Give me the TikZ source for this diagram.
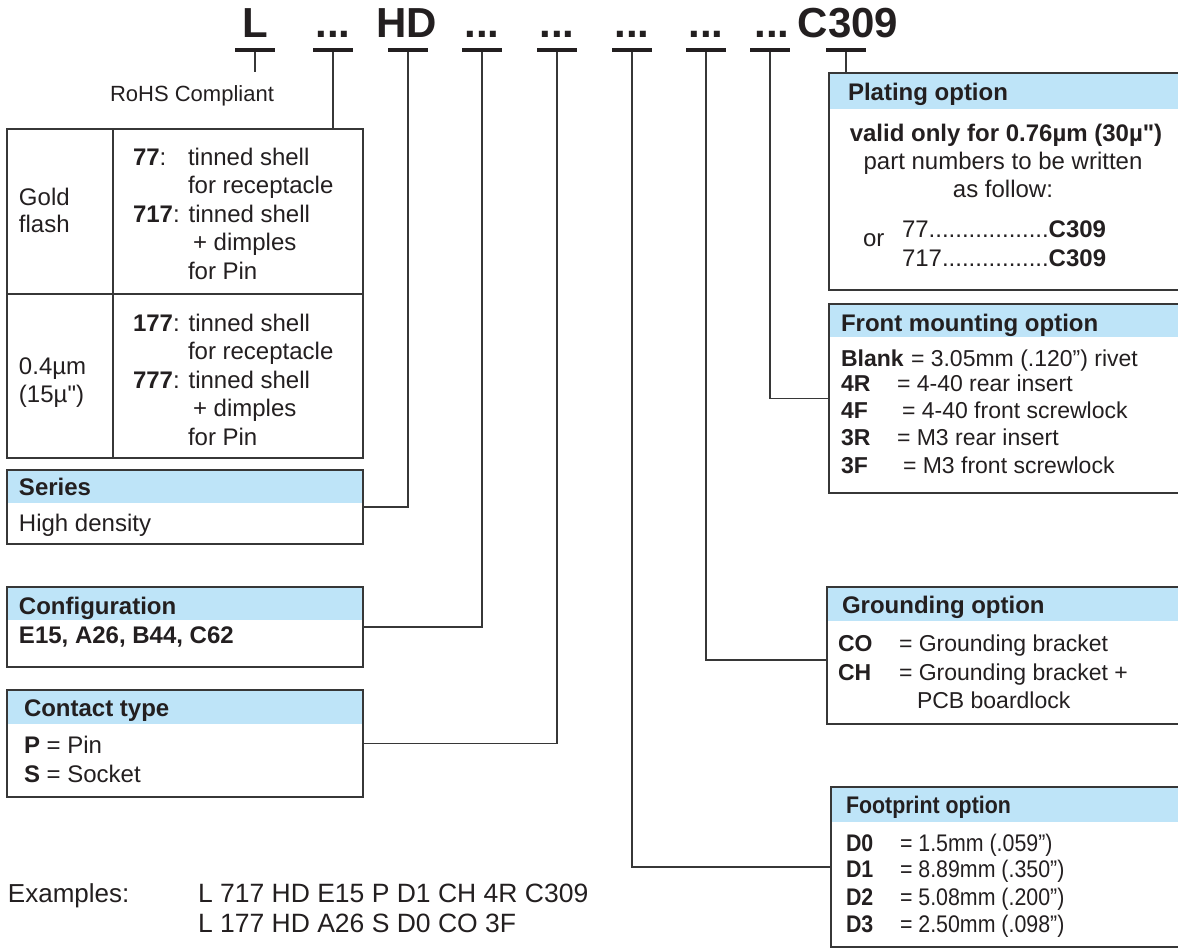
\documentclass[tikz,border=0pt]{standalone}
\usepackage{fontspec}
\setmainfont{Liberation Sans}[Ligatures=TeXOff]
\newfontfamily\condfont[FakeStretch=0.89,Ligatures=TeXOff]{Liberation Sans}
\pgfdeclarelayer{bg}
\pgfsetlayers{bg,main}
\definecolor{txt}{RGB}{35,31,32}
\definecolor{hdrblue}{RGB}{190,228,248}
\definecolor{edge}{RGB}{55,55,55}
\begin{document}
\begin{tikzpicture}[x=1pt,y=-1pt,
  every node/.style={inner sep=0pt, outer sep=0pt, text=txt},
  lbl/.style={anchor=base west, font=\fontsize{24}{29}\selectfont},
  lbs/.style={anchor=base west, font=\fontsize{23}{28}\selectfont},
  lblc/.style={anchor=base, font=\fontsize{24}{29}\selectfont},
  hdr/.style={anchor=base west, font=\fontsize{24}{29}\selectfont\bfseries},
  fnt/.style={anchor=base west, font=\condfont\fontsize{24}{29}\selectfont},
  ttl/.style={anchor=base, font=\fontsize{42}{42}\selectfont\bfseries},
  bar/.style={fill=txt, minimum width=40pt, minimum height=4.5pt},
  box/.style={draw=edge, line width=1.3pt, anchor=north west},
  openbox/.style={anchor=north west},
  conn/.style={draw=edge, line width=1.3pt},
]
\useasboundingbox (0,0) rectangle (1178,950);

% ---------- title ----------
\node[ttl] (tL) at (255,38) {L};
\node[ttl] (t2) at (333,38) {...};
\node[ttl] (t3) at (407,38) {HD};
\node[ttl] (t4) at (482,38) {...};
\node[ttl] (t5) at (557,38) {...};
\node[ttl] (t6) at (632,38) {...};
\node[ttl] (t7) at (706,38) {...};
\node[ttl] (t8) at (772,38) {...};
\node[ttl] (t9) at (848,38) {C309};
\node[bar] (b1) at (255,50) {};
\node[bar] (b2) at (333,50) {};
\node[bar] (b3) at (408,50) {};
\node[bar] (b4) at (482,50) {};
\node[bar] (b5) at (557,50) {};
\node[bar] (b6) at (632,50) {};
\node[bar] (b7) at (706,50) {};
\node[bar] (b8) at (770,50) {};
\node[bar] (b9) at (846,50) {};

% ---------- RoHS ----------
\coordinate (rohsTop) at (255,72);
\draw[conn] (b1.south) -- (rohsTop);
\node[anchor=base, font=\fontsize{22}{26}\selectfont] (rohs) at (192,101) {RoHS Compliant};

% ---------- gold table ----------
\node[box, minimum width=356pt, minimum height=329pt] (gold) at (7,129) {};
\draw[conn] (b2.south) -- (b2.south |- gold.north);
\draw[conn] ([xshift=106pt]gold.north west) -- ([xshift=106pt]gold.south west);
\coordinate (gmid) at (0,294);
\draw[conn] (gold.west |- gmid) -- (gold.east |- gmid);
\node[lbl] (gA) at (19,205) {Gold};
\node[lbl] (gB) at (19,232) {flash};
\node[lbl] (g1c) at (133,165) {\textbf{77}:};
\node[lbl] (g1d) at (188,165) {tinned shell};
\node[lbl] (g2d) at (188,193.5) {for receptacle};
\node[lbl] (g3c) at (133,222) {\textbf{717}: tinned shell};
\node[lbl] (g4d) at (193,250.5) {+ dimples};
\node[lbl] (g5d) at (188,279) {for Pin};
\node[lbl] (hA) at (19,374) {0.4µm};
\node[lbl] (hB) at (19,402) {(15µ")};
\node[lbl] (h1c) at (133,331) {\textbf{177}: tinned shell};
\node[lbl] (h2d) at (188,359.5) {for receptacle};
\node[lbl] (h3c) at (133,388) {\textbf{777}: tinned shell};
\node[lbl] (h4d) at (193,416.5) {+ dimples};
\node[lbl] (h5d) at (188,445) {for Pin};

% ---------- series ----------
\node[box, minimum width=356pt, minimum height=74pt] (series) at (7,470) {};
\begin{pgfonlayer}{bg}\fill[hdrblue] (series.north west) rectangle ([yshift=-33pt]series.north east);\end{pgfonlayer}
\node[hdr] (serT) at (19,495) {Series};
\node[lbl] (serB) at (19,531) {High density};
\draw[conn] (b3.south) |- (series.east);

% ---------- configuration ----------
\node[box, minimum width=356pt, minimum height=80pt] (config) at (7,587) {};
\begin{pgfonlayer}{bg}\fill[hdrblue] (config.north west) rectangle ([yshift=-33pt]config.north east);\end{pgfonlayer}
\node[hdr] (cfgT) at (19,614) {Configuration};
\node[hdr] (cfgB) at (19,643) {E15, A26, B44, C62};
\draw[conn] (b4.south) |- (config.east);

% ---------- contact type ----------
\node[box, minimum width=356pt, minimum height=107pt] (contact) at (7,690) {};
\begin{pgfonlayer}{bg}\fill[hdrblue] (contact.north west) rectangle ([yshift=-34pt]contact.north east);\end{pgfonlayer}
\node[hdr] (conT) at (24,716) {Contact type};
\node[lbl] (conP) at (24,753) {\textbf{P} = Pin};
\node[lbl] (conS) at (24,782) {\textbf{S} = Socket};
\draw[conn] (b5.south) |- (contact.east);

% ---------- plating ----------
\node[openbox, minimum width=349pt, minimum height=217pt] (plat) at (829,73) {};
\begin{pgfonlayer}{bg}\fill[hdrblue] (plat.north west) rectangle ([yshift=-36pt]plat.north east);\end{pgfonlayer}
\draw[conn] (plat.north east) -- (plat.north west) -- (plat.south west) -- (plat.south east);
\draw[conn] (b9.south) -- (b9.south |- plat.north);
\node[hdr] (plaT) at (848,100) {Plating option};
\node[lblc, font=\fontsize{24}{29}\selectfont\bfseries] (pla1) at (1006,141) {valid only for 0.76µm (30µ")};
\node[lblc] (pla2) at (1003,169) {part numbers to be written};
\node[lblc] (pla3) at (1003,197) {as follow:};
\node[lbl] (plaOr) at (863,246) {or};
\node[lbl] (pla4) at (902,237) {77..................\textbf{C309}};
\node[lbl] (pla5) at (902,266) {717................\textbf{C309}};

% ---------- front mounting ----------
\node[openbox, minimum width=349pt, minimum height=189pt] (front) at (829,304) {};
\begin{pgfonlayer}{bg}\fill[hdrblue] (front.north west) rectangle ([yshift=-33pt]front.north east);\end{pgfonlayer}
\draw[conn] (front.north east) -- (front.north west) -- (front.south west) -- (front.south east);
\draw[conn] (b8.south) |- (front.west);
\node[hdr] (froT) at (841,331.5) {Front mounting option};
\node[lbs, font=\fontsize{23}{28}\selectfont\bfseries] (fro1k) at (841,366) {Blank};
\node[lbs] (fro1v) at (911,366) {= 3.05mm (.120”) rivet};
\node[lbs, font=\fontsize{23}{28}\selectfont\bfseries] (fro2k) at (841,391) {4R};
\node[lbs] (fro2v) at (897,391) {= 4-40 rear insert};
\node[lbs, font=\fontsize{23}{28}\selectfont\bfseries] (fro3k) at (841,418.5) {4F};
\node[lbs] (fro3v) at (902,418.5) {= 4-40 front screwlock};
\node[lbs, font=\fontsize{23}{28}\selectfont\bfseries] (fro4k) at (841,445) {3R};
\node[lbs] (fro4v) at (897,445) {= M3 rear insert};
\node[lbs, font=\fontsize{23}{28}\selectfont\bfseries] (fro5k) at (841,473.5) {3F};
\node[lbs] (fro5v) at (903,473.5) {= M3 front screwlock};

% ---------- grounding ----------
\node[openbox, minimum width=351pt, minimum height=137pt] (ground) at (827,587) {};
\begin{pgfonlayer}{bg}\fill[hdrblue] (ground.north west) rectangle ([yshift=-34pt]ground.north east);\end{pgfonlayer}
\draw[conn] (ground.north east) -- (ground.north west) -- (ground.south west) -- (ground.south east);
\draw[conn] (b7.south) |- ([yshift=-4.5pt]ground.west);
\node[hdr] (groT) at (842,613.5) {Grounding option};
\node[lbs, font=\fontsize{23}{28}\selectfont\bfseries] (gro1k) at (838,651.5) {CO};
\node[lbs] (gro1v) at (899,651.5) {= Grounding bracket};
\node[lbs, font=\fontsize{23}{28}\selectfont\bfseries] (gro2k) at (838,680.5) {CH};
\node[lbs] (gro2v) at (899,680.5) {= Grounding bracket +};
\node[lbs] (gro3v) at (917,708.5) {PCB boardlock};

% ---------- footprint ----------
\node[openbox, minimum width=347pt, minimum height=160pt] (foot) at (831,787) {};
\begin{pgfonlayer}{bg}\fill[hdrblue] (foot.north west) rectangle ([yshift=-35pt]foot.north east);\end{pgfonlayer}
\draw[conn] (foot.north east) -- (foot.north west) -- (foot.south west) -- (foot.south east);
\draw[conn] (b6.south) |- (foot.west);
\node[fnt, font=\condfont\fontsize{24}{29}\selectfont\bfseries] (fooT) at (846,813.5) {Footprint option};
\node[fnt, font=\condfont\fontsize{24}{29}\selectfont\bfseries] (foo1k) at (846,851.5) {D0};
\node[fnt] (foo1v) at (900,851.5) {= 1.5mm (.059”)};
\node[fnt, font=\condfont\fontsize{24}{29}\selectfont\bfseries] (foo2k) at (846,877.5) {D1};
\node[fnt] (foo2v) at (900,877.5) {= 8.89mm (.350”)};
\node[fnt, font=\condfont\fontsize{24}{29}\selectfont\bfseries] (foo3k) at (846,905.5) {D2};
\node[fnt] (foo3v) at (900,905.5) {= 5.08mm (.200”)};
\node[fnt, font=\condfont\fontsize{24}{29}\selectfont\bfseries] (foo4k) at (846,932.5) {D3};
\node[fnt] (foo4v) at (900,932.5) {= 2.50mm (.098”)};

% ---------- examples ----------
\node[anchor=base west, font=\fontsize{26}{31}\selectfont] (exT) at (8,902) {Examples:};
\node[anchor=base west, font=\fontsize{26.5}{31}\selectfont] (ex1) at (198,902) {L 717 HD E15 P D1 CH 4R C309};
\node[anchor=base west, font=\fontsize{26.5}{31}\selectfont] (ex2) at (198,932) {L 177 HD A26 S D0 CO 3F};
\end{tikzpicture}
\end{document}
